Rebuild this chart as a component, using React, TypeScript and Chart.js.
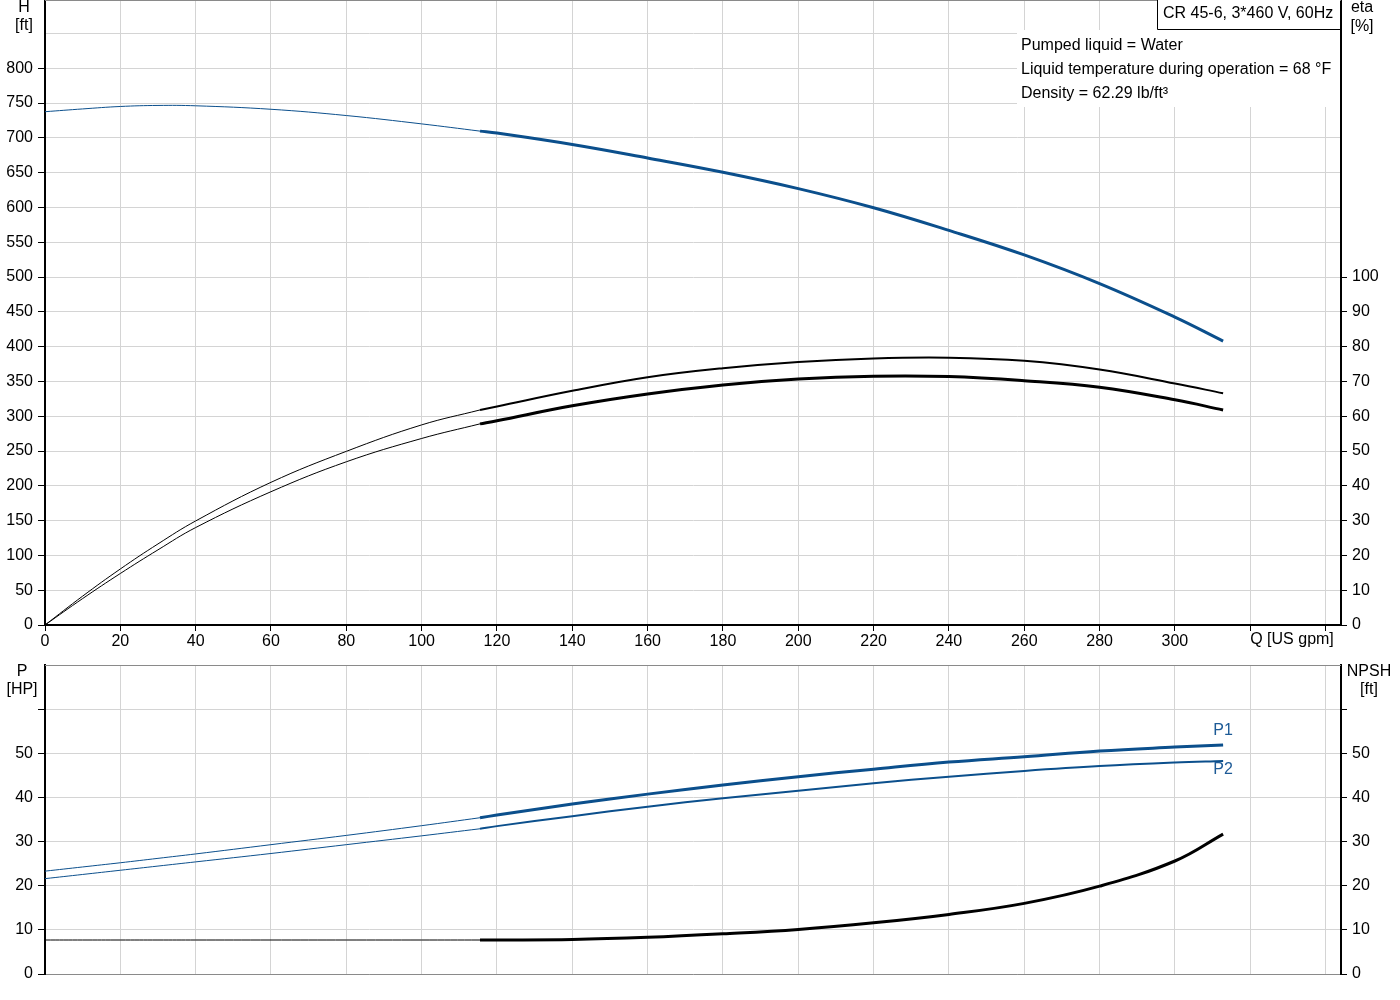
import { useEffect, useRef } from "react";
import { Chart, registerables } from "chart.js";

Chart.register(...registerables);

// flow [US gpm]: thin part (outside operating range) and thick part
const flowThin = [0, 10, 20, 30, 40, 60, 80, 100, 115.5];
const flowThick = [115.5, 120, 140, 160, 180, 200, 220, 240, 260, 280, 300, 312.8];

// head [ft]
const headThin = [737.5, 741.5, 745, 746.5, 746, 741, 732, 720, 709.6];
const headThick = [709.6, 706.8, 690.4, 671, 650.5, 627, 599.5, 567, 531.7, 490.5, 442.4, 408];

// efficiencies [%]
const etaPumpThin = [0, 8.3, 16.1, 23.3, 29.9, 41, 49.9, 57.5, 61.8];
const etaPumpThick = [61.8, 62.8, 67.3, 71.2, 73.8, 75.6, 76.6, 76.8, 75.9, 73.4, 69.4, 66.6];
const etaTotalThin = [0, 7.6, 14.8, 21.6, 28, 38.3, 46.9, 53.6, 57.8];
const etaTotalThick = [57.8, 58.7, 63.0, 66.4, 69.0, 70.7, 71.5, 71.4, 70.2, 68.3, 64.7, 61.8];

// power [HP]
const p1Thin = [23.3, 24.25, 25.2, 26.2, 27.2, 29.3, 31.4, 33.6, 35.4];
const p1Thick = [35.4, 36.0, 38.5, 40.75, 42.8, 44.7, 46.4, 48.0, 49.2, 50.5, 51.4, 51.9];
const p2Thin = [21.6, 22.55, 23.5, 24.45, 25.4, 27.3, 29.3, 31.3, 32.9];
const p2Thick = [32.9, 33.5, 35.75, 37.9, 39.8, 41.5, 43.2, 44.7, 46.0, 47.1, 47.9, 48.25];

// NPSH [ft]
const npshThin = [7.7, 7.7, 7.7, 7.7, 7.7, 7.7, 7.7, 7.7, 7.7];
const npshThick = [7.7, 7.7, 7.8, 8.3, 9.1, 10.1, 11.6, 13.5, 16.0, 19.9, 25.6, 31.7];

// ticks
const qTicks = [0, 20, 40, 60, 80, 100, 120, 140, 160, 180, 200, 220, 240, 260, 280, 300, 320, 340];
const hTicks = [0, 50, 100, 150, 200, 250, 300, 350, 400, 450, 500, 550, 600, 650, 700, 750, 800, 850];
const etaTicks = [0, 10, 20, 30, 40, 50, 60, 70, 80, 90, 100];
const pTicks = [0, 10, 20, 30, 40, 50, 60];
const npshTicks = [0, 10, 20, 30, 40, 50, 60];

const qMax = 344.1;
const hMax = 898;
const etaMax = 179.6;
const pMax = 70;

const title = "CR 45-6, 3*460 V, 60Hz";
const infoLines = [
  "Pumped liquid = Water",
  "Liquid temperature during operation = 68 °F",
  "Density = 62.29 lb/ft³",
];

const FONT = '"Liberation Sans", Arial, sans-serif';
const BLUE = "#0b4f8c";
const GRID = "#d4d4d4";

const pts = (xs: number[], ys: number[]) => xs.map((x, i) => ({ x, y: ys[i] }));

const curve = (data: number[], xs: number[], color: string, width: number, axis: string) => ({
  data: pts(xs, data),
  borderColor: color,
  borderWidth: width,
  pointRadius: 0,
  showLine: true,
  fill: false,
  tension: 0.4,
  yAxisID: axis,
});

const fixTicks = (values: number[]) => (scale: any) => {
  scale.ticks = values.map((v) => ({ value: v }));
};

const App = () => {
  const topRef = useRef<HTMLCanvasElement | null>(null);
  const bottomRef = useRef<HTMLCanvasElement | null>(null);

  useEffect(() => {
    if (!topRef.current || !bottomRef.current) return;

    Chart.defaults.font.family = FONT;
    Chart.defaults.font.size = 16;
    Chart.defaults.color = "#000";

    const topDecor = {
      id: "topDecor",
      beforeDatasetsDraw(chart: any) {
        const { ctx, chartArea } = chart;
        ctx.save();
        ctx.strokeStyle = "#8a8a8a";
        ctx.lineWidth = 1;
        ctx.beginPath();
        ctx.moveTo(chartArea.left, chartArea.top + 0.5);
        ctx.lineTo(chartArea.right, chartArea.top + 0.5);
        ctx.stroke();
        // white panel behind the liquid info
        ctx.fillStyle = "#fff";
        ctx.fillRect(1017, 30, chartArea.right - 1 - 1017, 77);
        ctx.restore();
      },
      afterDraw(chart: any) {
        const { ctx, chartArea, scales } = chart;
        ctx.save();
        ctx.font = `16px ${FONT}`;
        ctx.fillStyle = "#000";
        ctx.textAlign = "center";
        ctx.textBaseline = "middle";
        ctx.fillText("H", 24, 8);
        ctx.fillText("[ft]", 24, 26);
        ctx.fillText("eta", 1362, 8);
        ctx.fillText("[%]", 1362, 27);
        ctx.textAlign = "left";
        ctx.fillText("Q [US gpm]", scales.x.getPixelForValue(320), 640);

        // title box
        ctx.fillStyle = "#fff";
        ctx.fillRect(1157, 0, chartArea.right - 1 - 1157, 29);
        ctx.strokeStyle = "#000";
        ctx.lineWidth = 1;
        ctx.beginPath();
        ctx.moveTo(1157.5, 0);
        ctx.lineTo(1157.5, 29.5);
        ctx.lineTo(chartArea.right, 29.5);
        ctx.stroke();
        ctx.fillStyle = "#000";
        ctx.textBaseline = "alphabetic";
        ctx.fillText(title, 1163, 17.5);
        infoLines.forEach((t, i) => ctx.fillText(t, 1021, 50 + i * 24));
        ctx.restore();
      },
    };

    const bottomDecor = {
      id: "bottomDecor",
      beforeDatasetsDraw(chart: any) {
        const { ctx, chartArea } = chart;
        ctx.save();
        ctx.strokeStyle = "#8a8a8a";
        ctx.lineWidth = 1;
        ctx.beginPath();
        ctx.moveTo(chartArea.left, chartArea.top + 0.5);
        ctx.lineTo(chartArea.right, chartArea.top + 0.5);
        ctx.stroke();
        ctx.restore();
      },
      afterDraw(chart: any) {
        const { ctx, scales } = chart;
        ctx.save();
        ctx.font = `16px ${FONT}`;
        ctx.fillStyle = "#000";
        ctx.textAlign = "center";
        ctx.textBaseline = "middle";
        ctx.fillText("P", 22, 12);
        ctx.fillText("[HP]", 22, 30);
        ctx.fillText("NPSH", 1369, 12);
        ctx.fillText("[ft]", 1369, 30);
        // curve names at the curve ends
        const lastQ = flowThick[flowThick.length - 1];
        const xEnd = scales.x.getPixelForValue(lastQ);
        ctx.fillStyle = "#1d5a96";
        ctx.fillText("P1", xEnd, scales.y.getPixelForValue(p1Thick[p1Thick.length - 1]) - 14);
        ctx.fillText("P2", xEnd, scales.y.getPixelForValue(p2Thick[p2Thick.length - 1]) + 9);
        ctx.restore();
      },
    };

    const yLeft = (max: number, ticks: number[], lastLabel: number, hideExtraMarks: boolean) => ({
      type: "linear" as const,
      position: "left" as const,
      min: 0,
      max,
      afterBuildTicks: fixTicks(ticks),
      afterFit: (s: any) => {
        s.width = 45;
        s.paddingTop = 0;
        s.paddingBottom = 0;
      },
      ticks: {
        callback: (v: any) => (v <= lastLabel ? String(v) : ""),
        padding: 5,
        color: "#000",
      },
      grid: {
        color: GRID,
        tickLength: 7,
        tickColor: (c: any) =>
          hideExtraMarks && c.tick && c.tick.value > lastLabel ? "rgba(0,0,0,0)" : "#000",
      },
      border: { color: "#000", width: 2 },
    });

    const yRight = (max: number, ticks: number[], lastLabel: number) => ({
      type: "linear" as const,
      position: "right" as const,
      min: 0,
      max,
      afterBuildTicks: fixTicks(ticks),
      afterFit: (s: any) => {
        s.width = 59;
        s.paddingTop = 0;
        s.paddingBottom = 0;
      },
      ticks: {
        callback: (v: any) => (v <= lastLabel ? String(v) : ""),
        padding: 5,
        color: "#000",
      },
      grid: { drawOnChartArea: false, tickLength: 6, tickColor: "#000" },
      border: { color: "#000", width: 2 },
    });

    const top = new Chart(topRef.current, {
      type: "scatter",
      data: {
        datasets: [
          curve(headThin, flowThin, BLUE, 1, "y"),
          curve(headThick, flowThick, BLUE, 3, "y"),
          curve(etaPumpThin, flowThin, "#000", 1, "y2"),
          curve(etaPumpThick, flowThick, "#000", 2, "y2"),
          curve(etaTotalThin, flowThin, "#000", 1, "y2"),
          curve(etaTotalThick, flowThick, "#000", 3, "y2"),
        ],
      },
      options: {
        responsive: false,
        animation: false,
        layout: { padding: { top: 0, left: 0, right: 0, bottom: 0 } },
        plugins: { legend: { display: false }, tooltip: { enabled: false } },
        scales: {
          x: {
            type: "linear",
            min: 0,
            max: qMax,
            afterBuildTicks: fixTicks(qTicks),
            afterFit: (s: any) => {
              s.height = 35;
              s.paddingLeft = 0;
              s.paddingRight = 0;
            },
            ticks: {
              callback: (v: any) => (v <= 300 ? String(v) : ""),
              maxRotation: 0,
              autoSkip: false,
              padding: 1,
              color: "#000",
            },
            grid: { color: GRID, tickColor: "#000", tickLength: 6 },
            border: { color: "#000", width: 2 },
          },
          y: yLeft(hMax, hTicks, 800, true),
          y2: yRight(etaMax, etaTicks, 100),
        },
      },
      plugins: [topDecor],
    });

    const bottom = new Chart(bottomRef.current, {
      type: "scatter",
      data: {
        datasets: [
          curve(p1Thin, flowThin, BLUE, 1, "y"),
          curve(p1Thick, flowThick, BLUE, 3, "y"),
          curve(p2Thin, flowThin, BLUE, 1, "y"),
          curve(p2Thick, flowThick, BLUE, 2, "y"),
          curve(npshThin, flowThin, "#000", 1, "y2"),
          curve(npshThick, flowThick, "#000", 3, "y2"),
        ],
      },
      options: {
        responsive: false,
        animation: false,
        layout: { padding: { top: 5, left: 0, right: 0, bottom: 0 } },
        plugins: { legend: { display: false }, tooltip: { enabled: false } },
        scales: {
          x: {
            type: "linear",
            min: 0,
            max: qMax,
            afterBuildTicks: fixTicks(qTicks),
            afterFit: (s: any) => {
              s.height = 26;
              s.paddingLeft = 0;
              s.paddingRight = 0;
            },
            ticks: { display: false },
            grid: { color: GRID, drawTicks: false },
            border: { color: "#8a8a8a", width: 1 },
          },
          y: yLeft(pMax, pTicks, 50, false),
          y2: yRight(pMax, npshTicks, 50),
        },
      },
      plugins: [bottomDecor],
    });

    return () => {
      top.destroy();
      bottom.destroy();
    };
  }, []);

  return (
    <div style={{ position: "fixed", left: 0, top: 0, width: 1400, height: 1000, background: "#fff" }}>
      <canvas
        ref={topRef}
        width={1400}
        height={660}
        style={{ position: "absolute", left: 0, top: 0, width: 1400, height: 660 }}
      />
      <canvas
        ref={bottomRef}
        width={1400}
        height={340}
        style={{ position: "absolute", left: 0, top: 660, width: 1400, height: 340 }}
      />
    </div>
  );
};

export default App;
